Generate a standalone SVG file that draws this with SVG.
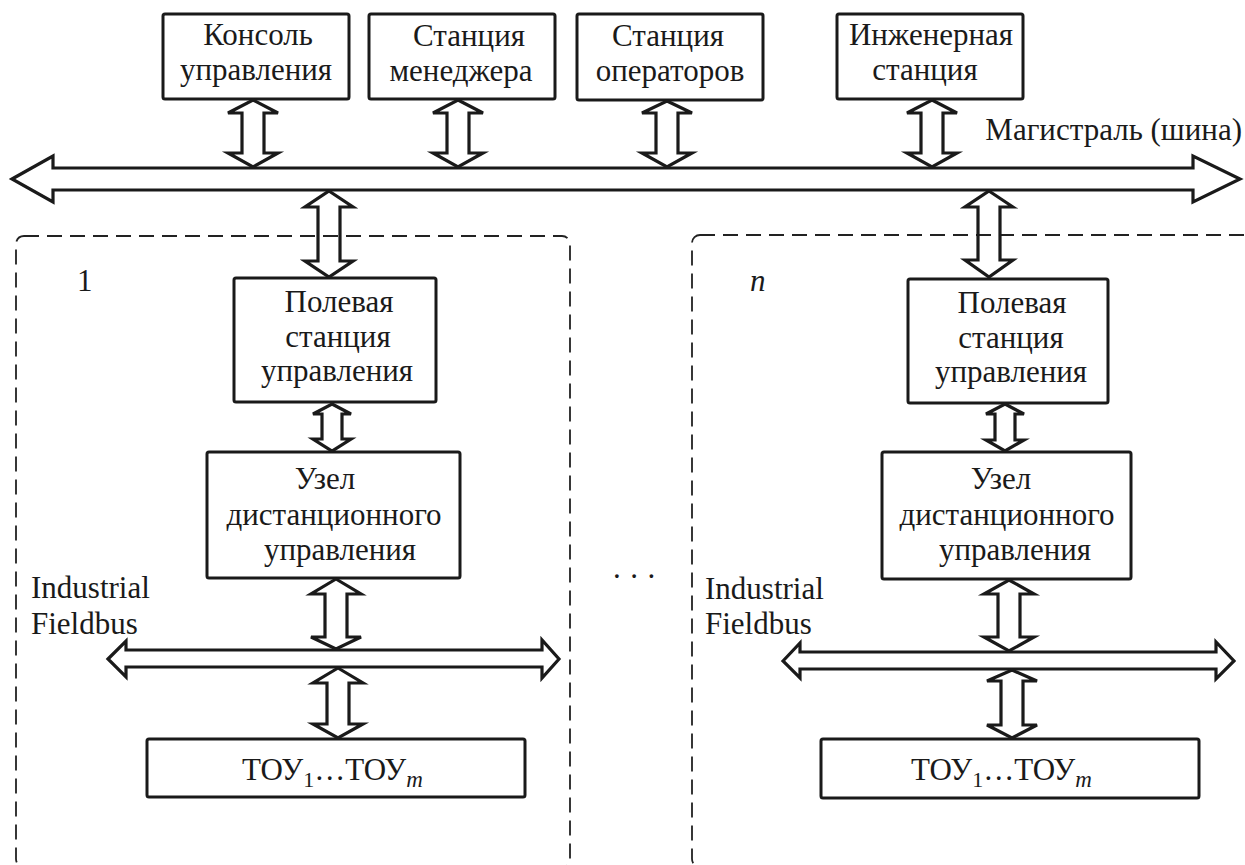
<svg xmlns="http://www.w3.org/2000/svg" width="1245" height="865" viewBox="0 0 1245 865">
<style>
  .box { fill: #fff; stroke: #1a1a1a; stroke-width: 3; }
  .dash { fill: none; stroke: #222; stroke-width: 1.8; stroke-dasharray: 15 8; }
  .arr { fill: none; stroke: #1a1a1a; stroke-width: 3.2; stroke-linejoin: miter; }
  text { font-family: "Liberation Serif", "Times New Roman", serif; font-size: 31px; fill: #1a1a1a; }
  .c { text-anchor: middle; }
</style>
<rect width="1245" height="865" fill="#fff"/>
<g id="groups">
  <rect id="group-1" class="dash" x="16" y="236" width="554" height="631" rx="8"/>
  <rect id="group-n" class="dash" x="692" y="235" width="600" height="632" rx="8"/>
  <text x="77" y="291">1</text>
  <text x="750" y="291" font-style="italic">n</text>
  <text x="613" y="578" letter-spacing="9.5">...</text>
</g>
<g id="console">
  <rect class="box" x="163" y="14" width="186" height="85" rx="2"/>
  <text class="c" x="258" y="45">Консоль</text>
  <text class="c" x="256" y="80">управления</text>
</g>
<g id="manager">
  <rect class="box" x="369" y="14" width="186" height="85" rx="2"/>
  <text class="c" x="469" y="46">Станция</text>
  <text class="c" x="461" y="81">менеджера</text>
</g>
<g id="operators">
  <rect class="box" x="577" y="14" width="186" height="86" rx="2"/>
  <text class="c" x="668" y="46">Станция</text>
  <text class="c" x="670" y="81">операторов</text>
</g>
<g id="engineer">
  <rect class="box" x="837" y="14" width="186" height="85" rx="2"/>
  <text class="c" x="931" y="45">Инженерная</text>
  <text class="c" x="925" y="80">станция</text>
</g>
<g id="bus-label">
  <text x="1242" y="140" text-anchor="end">Магистраль (шина)</text>
</g>
<g id="field-station-1">
  <rect class="box" x="234" y="278" width="202" height="124" rx="2"/>
  <text class="c" x="339" y="312">Полевая</text>
  <text class="c" x="338" y="347">станция</text>
  <text class="c" x="337" y="381">управления</text>
</g>
<g id="remote-node-1">
  <rect class="box" x="207" y="452" width="253" height="126" rx="2"/>
  <text class="c" x="325" y="489">Узел</text>
  <text class="c" x="334" y="525">дистанционного</text>
  <text class="c" x="340" y="560">управления</text>
</g>
<g id="fieldbus-label-1">
  <text x="31" y="598">Industrial</text>
  <text x="31" y="634">Fieldbus</text>
</g>
<g id="tou-1">
  <rect class="box" x="147" y="739" width="378" height="58" rx="2"/>
  <text x="242" y="780" font-size="32">ТОУ<tspan font-size="22" dy="7">1</tspan><tspan dy="-7">…ТОУ</tspan><tspan font-size="23" dy="7" font-style="italic">m</tspan></text>
</g>
<g id="field-station-n">
  <rect class="box" x="908" y="279" width="200" height="124" rx="2"/>
  <text class="c" x="1012" y="313">Полевая</text>
  <text class="c" x="1011" y="348">станция</text>
  <text class="c" x="1011" y="382">управления</text>
</g>
<g id="remote-node-n">
  <rect class="box" x="882" y="452" width="249" height="127" rx="2"/>
  <text class="c" x="1001" y="489">Узел</text>
  <text class="c" x="1007" y="525">дистанционного</text>
  <text class="c" x="1015" y="560">управления</text>
</g>
<g id="fieldbus-label-n">
  <text x="705" y="599">Industrial</text>
  <text x="705" y="634">Fieldbus</text>
</g>
<g id="tou-n">
  <rect class="box" x="821" y="739" width="378" height="59" rx="2"/>
  <text x="911" y="780" font-size="32">ТОУ<tspan font-size="22" dy="7">1</tspan><tspan dy="-7">…ТОУ</tspan><tspan font-size="23" dy="7" font-style="italic">m</tspan></text>
</g>
<g id="connectors">
  <polygon class="arr" points="12,179 53,156 53,168 1193,168 1193,156 1240,179 1193,202 1193,190 53,190 53,202"/>
  <polygon class="arr" points="253,100 278,113 264,113 264,153 278,153 253,167 228,153 242,153 242,113 228,113"/>
  <polygon class="arr" points="458,100 483,113 469,113 469,153 483,153 458,167 433,153 447,153 447,113 433,113"/>
  <polygon class="arr" points="667,101 692,113 678,113 678,153 692,153 667,167 642,153 656,153 656,113 642,113"/>
  <polygon class="arr" points="932,100 957,113 943,113 943,153 957,153 932,167 907,153 921,153 921,113 907,113"/>
  <polygon class="arr" points="329,191 353,207 340,207 340,261 353,261 329,277 305,261 318,261 318,207 305,207"/>
  <polygon class="arr" points="989,191 1013,207 1000,207 1000,260 1013,260 989,277 965,260 978,260 978,207 965,207"/>
  <polygon class="arr" points="332,404 351,414 342,414 342,439 351,439 332,451 313,439 322,439 322,414 313,414"/>
  <polygon class="arr" points="1005,404 1024,414 1015,414 1015,440 1024,440 1005,451 986,440 995,440 995,414 986,414"/>
  <polygon class="arr" points="336,579 361,594 347,594 347,637 361,637 336,649 311,637 325,637 325,594 311,594"/>
  <polygon class="arr" points="1009,580 1034,594 1020,594 1020,637 1034,637 1009,651 984,637 998,637 998,594 984,594"/>
  <polygon class="arr" points="108,659 126,641 126,650 542,650 542,640 559,659 542,678 542,667 126,667 126,677"/>
  <polygon class="arr" points="783,661 800,643 800,652 1216,652 1216,642 1234,661 1216,679 1216,669 800,669 800,678"/>
  <polygon class="arr" points="338,668 363,683 349,683 349,724 363,724 338,738 313,724 327,724 327,683 313,683"/>
  <polygon class="arr" points="1012,670 1037,681 1023,681 1023,725 1037,725 1012,738 987,725 1001,725 1001,681 987,681"/>
</g>
</svg>
